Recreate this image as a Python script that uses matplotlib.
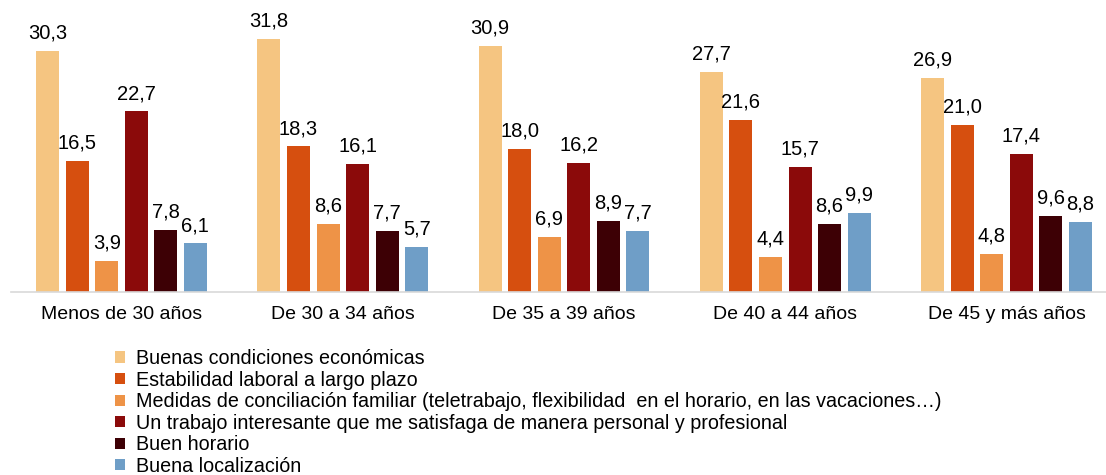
import matplotlib
matplotlib.use("Agg")
import matplotlib.pyplot as plt
import numpy as np

plt.rcParams['font.family'] = ['Liberation Sans', 'DejaVu Sans']

grupos = ["Menos de 30 años", "De 30 a 34 años", "De 35 a 39 años",
          "De 40 a 44 años", "De 45 y más años"]
series = ["Buenas condiciones económicas",
          "Estabilidad laboral a largo plazo",
          "Medidas de conciliación familiar (teletrabajo, flexibilidad  en el horario, en las vacaciones…)",
          "Un trabajo interesante que me satisfaga de manera personal y profesional",
          "Buen horario",
          "Buena localización"]
economicas = [30.3, 31.8, 30.9, 27.7, 26.9]
estabilidad = [16.5, 18.3, 18.0, 21.6, 21.0]
conciliacion = [3.9, 8.6, 6.9, 4.4, 4.8]
interesante = [22.7, 16.1, 16.2, 15.7, 17.4]
horario = [7.8, 7.7, 8.9, 8.6, 9.6]
localizacion = [6.1, 5.7, 7.7, 9.9, 8.8]
valores = [economicas, estabilidad, conciliacion, interesante, horario, localizacion]
colores = ["#F5C581", "#D64F0F", "#EE9347", "#8B0A0A", "#3D0005", "#6F9EC7"]

fig = plt.figure(figsize=(11.06, 4.75), dpi=100)
ax = fig.add_axes([11 / 1106, 183 / 475, 1095 / 1106, 292 / 475])

x = np.arange(len(grupos))
paso = 0.1335
ancho = 0.104
for i, (nombre, vals, col) in enumerate(zip(series, valores, colores)):
    pos = x + (i - 2.5) * paso
    barras = ax.bar(pos, vals, width=ancho, color=col, label=nombre)
    for b, v in zip(barras, vals):
        ax.annotate(f"{v:.1f}".replace(".", ","),
                    (b.get_x() + b.get_width() / 2, v),
                    xytext=(0, 6), textcoords="offset points",
                    ha="center", va="bottom", fontsize=14.5, color="#000000")

ax.set_xlim(-0.5, 4.45)
ax.set_ylim(0, 36.7)
ax.set_xticks(x)
ax.set_xticklabels(grupos, fontsize=14)
ax.tick_params(axis="x", length=0, pad=10)
ax.set_yticks([])
for s in ["top", "right", "left"]:
    ax.spines[s].set_visible(False)
ax.spines["bottom"].set_color("#d9d9d9")
ax.spines["bottom"].set_linewidth(1.2)

fig.legend(loc="upper left", bbox_to_anchor=(115 / 1106, 1 - 349 / 475),
           frameon=False, fontsize=14.2, handlelength=0.5, handleheight=0.5,
           handletextpad=0.55, labelspacing=0.13, borderpad=0, borderaxespad=0)

fig.savefig("out.png", dpi=100)
